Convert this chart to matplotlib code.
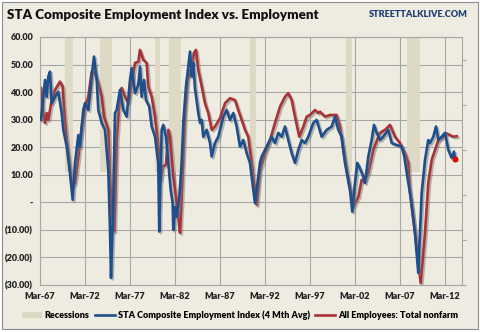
import matplotlib
matplotlib.use('Agg')
import matplotlib.pyplot as plt
import matplotlib.patheffects as pe
from matplotlib.patches import Rectangle, Patch
from matplotlib.lines import Line2D

# STA composite employment index (4 month avg)
sta_year = [1967.28, 1967.54, 1967.73, 1967.91, 1968.09, 1968.28, 1968.47, 1968.84, 1969.20, 1969.58,
            1969.76, 1970.14, 1970.50, 1970.80, 1971.06, 1971.43, 1971.61, 1971.98, 1972.17, 1972.54,
            1972.91, 1973.17, 1973.47, 1973.65, 1974.03, 1974.39, 1974.76, 1974.95, 1975.06, 1975.28,
            1975.50, 1975.69, 1976.06, 1976.43, 1976.80, 1977.17, 1977.36, 1977.73, 1978.09, 1978.28,
            1978.47, 1978.73, 1978.95, 1979.31, 1979.58, 1979.95, 1980.31, 1980.42, 1980.69, 1980.87,
            1981.17, 1981.43, 1981.69, 1981.91, 1981.98, 1982.17, 1982.36, 1982.65, 1982.91, 1983.09,
            1983.39, 1983.65, 1983.84, 1984.03, 1984.20, 1984.39, 1984.76, 1984.95, 1985.14, 1985.31,
            1985.69, 1986.06, 1986.25, 1986.61, 1986.98, 1987.17, 1987.54, 1987.91, 1988.28, 1988.65,
            1989.02, 1989.39, 1989.76, 1990.14, 1990.50, 1991.06, 1991.61, 1991.80, 1992.17, 1992.54,
            1992.91, 1993.28, 1993.65, 1994.02, 1994.39, 1994.76, 1995.14, 1995.50, 1995.87, 1996.25,
            1996.61, 1996.98, 1997.54, 1997.91, 1998.47, 1999.02, 1999.58, 1999.95, 2000.31, 2000.69,
            2001.06, 2001.61, 2001.87, 2002.17, 2002.43, 2002.80, 2003.09, 2003.28, 2003.65, 2004.02,
            2004.28, 2004.58, 2004.95, 2005.31, 2005.87, 2006.25, 2006.80, 2007.36, 2007.65, 2008.00,
            2008.40, 2008.83, 2009.20, 2009.39, 2009.58, 2009.95, 2010.31, 2010.50, 2010.87, 2011.17,
            2011.43, 2011.80, 2012.17, 2012.54, 2012.91, 2013.17, 2013.28]
sta_val = [29.9, 38.3, 44.4, 38.3, 45.6, 47.4, 36.0, 38.3, 40.1, 32.4,
           26.3, 20.2, 10.6, 0.9, 14.3, 24.4, 20.2, 33.5, 36.0, 33.5,
           45.6, 52.9, 44.4, 33.5, 28.8, 26.3, 11.7, -10.0, -27.4, -5.0,
           32.4, 33.5, 40.8, 33.5, 31.1, 44.4, 48.7, 39.6, 42.6, 49.2,
           38.3, 44.4, 37.1, 34.7, 27.5, 23.8, 14.3, -10.6, 26.3, 28.1,
           23.8, 14.3, 4.5, -0.2, -10.0, -1.7, -5.3, 2.0, 14.3, 28.8,
           42.0, 49.2, 54.7, 45.6, 50.6, 41.4, 32.4, 28.8, 29.9, 23.8,
           26.3, 21.5, 16.6, 21.5, 23.8, 26.3, 31.1, 33.5, 29.9, 32.4,
           27.5, 20.2, 22.6, 17.8, 14.3, -0.3, 14.3, 16.6, 19.0, 21.5,
           23.8, 21.5, 25.2, 23.8, 27.5, 22.6, 17.8, 14.3, 19.0, 22.6,
           21.5, 23.8, 28.8, 29.9, 23.8, 26.3, 27.5, 31.1, 26.3, 23.8,
           14.3, 4.5, -3.4, 7.0, 14.3, 11.7, 9.3, 7.0, 16.6, 22.6,
           28.1, 25.2, 22.6, 23.8, 26.3, 21.5, 20.8, 20.2, 16.6, 9.0,
           1.0, -11.0, -25.6, -11.0, 3.4, 15.4, 22.6, 21.5, 23.8, 27.5,
           22.6, 23.8, 25.2, 19.0, 16.1, 18.4, 15.7]

# All employees: total nonfarm
emp_year = [1967.28, 1967.47, 1967.73, 1967.91, 1968.09, 1968.47, 1968.84, 1969.39, 1969.69, 1969.87,
            1970.14, 1970.43, 1970.69, 1971.06, 1971.43, 1971.80, 1972.17, 1972.54, 1972.91, 1973.28,
            1973.65, 1974.03, 1974.28, 1974.76, 1974.95, 1975.17, 1975.43, 1975.69, 1976.06, 1976.25,
            1976.61, 1976.98, 1977.36, 1977.73, 1978.09, 1978.28, 1978.65, 1979.02, 1979.20, 1979.58,
            1979.95, 1980.31, 1980.58, 1980.80, 1981.17, 1981.43, 1981.61, 1981.98, 1982.36, 1982.65,
            1982.73, 1982.91, 1983.28, 1983.54, 1984.03, 1984.28, 1984.50, 1984.76, 1985.14, 1985.50,
            1985.87, 1986.25, 1986.61, 1987.17, 1987.73, 1988.28, 1988.84, 1989.20, 1989.58, 1989.95,
            1990.31, 1990.69, 1991.25, 1991.61, 1992.17, 1992.73, 1993.28, 1993.84, 1994.39, 1994.76,
            1995.14, 1995.50, 1995.98, 1996.43, 1996.80, 1997.17, 1997.73, 1998.09, 1998.28, 1998.84,
            1999.39, 2000.13, 2000.50, 2000.87, 2001.24, 2001.98, 2002.54, 2002.91, 2003.28, 2003.65,
            2004.20, 2004.76, 2004.95, 2005.50, 2006.06, 2006.61, 2007.17, 2007.73, 2008.09, 2008.28,
            2008.83, 2009.47, 2009.95, 2010.31, 2010.69, 2011.06, 2011.43, 2011.98, 2012.36, 2012.73,
            2013.09, 2013.47]
emp_val = [41.5, 33.5, 28.8, 32.4, 29.9, 37.1, 40.8, 43.8, 42.0, 32.4,
           22.6, 14.3, 5.6, 7.0, 16.5, 27.3, 34.6, 38.3, 47.4, 46.9,
           43.3, 38.3, 31.1, 26.3, 8.0, -5.0, -10.6, 22.6, 39.6, 41.5,
           38.3, 36.0, 43.3, 50.6, 51.0, 55.3, 51.7, 50.6, 42.0, 38.3,
           31.1, 20.2, 8.1, 13.0, 13.6, 26.3, 23.8, 9.3, -0.2, -8.9,
           -11.1, 2.0, 32.4, 44.4, 49.2, 54.2, 55.3, 48.0, 42.0, 36.0,
           32.4, 26.3, 27.5, 30.5, 36.0, 37.8, 37.1, 33.5, 29.9, 26.3,
           23.8, 14.3, -1.0, 11.7, 17.8, 22.6, 28.8, 34.7, 38.3, 39.6,
           37.1, 31.1, 23.8, 27.5, 31.1, 31.7, 33.5, 32.4, 32.9, 31.1,
           31.7, 31.7, 27.5, 19.0, 11.7, -1.6, 2.0, 8.1, 8.1, 10.6,
           19.0, 23.8, 25.2, 26.3, 28.1, 23.8, 21.5, 17.8, 14.3, 3.4,
           -11.0, -29.3, -11.0, 7.0, 15.4, 19.0, 22.6, 23.8, 25.0, 24.4,
           23.8, 24.0]

# NBER recessions (start, end) in decimal years
rec_start = [1969.92, 1973.83, 1980.0, 1981.5, 1990.5, 2001.17, 2007.92]
rec_end = [1970.83, 1975.17, 1980.5, 1982.83, 1991.17, 2001.83, 2009.42]

xtick_years = [1967.17, 1972.17, 1977.17, 1982.17, 1987.17, 1992.17, 1997.17, 2002.17, 2007.17, 2012.17]
xtick_labels = ['Mar-67', 'Mar-72', 'Mar-77', 'Mar-82', 'Mar-87', 'Mar-92', 'Mar-97', 'Mar-02', 'Mar-07', 'Mar-12']
ytick_vals = [-30, -20, -10, 0, 10, 20, 30, 40, 50, 60]

bg = '#EEECE1'
blue = '#1F4E8C'
red = '#A93236'
rec_col = '#DDD9C4'
grid_col = '#A6A6A6'

plt.rcParams['font.family'] = ['Lato', 'DejaVu Sans']

fig = plt.figure(figsize=(4.8, 3.32), dpi=100)
fig.patch.set_facecolor('white')
fig.patches.append(Rectangle((0.004, 0.009), 0.992, 0.985, transform=fig.transFigure,
                             facecolor=bg, edgecolor='#8C8C8C', linewidth=0.8, zorder=-10))

ax = fig.add_axes([0.0833, 0.1416, 0.8792, 0.747])
ax.set_facecolor(bg)
ax.set_zorder(2)

# recession bars
for s, e in zip(rec_start, rec_end):
    ax.bar(s, 49, width=e - s, bottom=11, align='edge', color=rec_col, zorder=1)

shadow = [pe.SimpleLineShadow(offset=(1.2, -1.2), shadow_color='#777777', alpha=0.5), pe.Normal()]
ax.plot(sta_year, sta_val, color=blue, lw=1.9, zorder=3, path_effects=shadow)
ax.plot(emp_year, emp_val, color=red, lw=1.9, zorder=2, path_effects=shadow)
ax.plot(sta_year[-1], sta_val[-1], 'o', color='#E00000', ms=3.3, zorder=4)

ax.set_xlim(1967.17, 2014.06)
ax.set_ylim(-30, 60)
ax.set_xticks(xtick_years)
ax.set_xticklabels(xtick_labels)
ax.set_yticks(ytick_vals)

def fmt(v):
    if v == 0:
        return '-'
    if v < 0:
        return '(%.2f)' % abs(v)
    return '%.2f' % v

ax.set_yticklabels([fmt(v) for v in ytick_vals])
ax.tick_params(axis='both', length=0, labelsize=6.5, pad=5, labelcolor='#222222')
for lbl in ax.get_xticklabels() + ax.get_yticklabels():
    lbl.set_fontweight('heavy')
ax.grid(True, color=grid_col, lw=0.8, zorder=0)
ax.set_axisbelow(True)
for side in ['top', 'left', 'bottom', 'right']:
    ax.spines[side].set_color(grid_col)
    ax.spines[side].set_linewidth(0.8)

# secondary axis ticks on the right (no labels)
ax2 = ax.twinx()
ax2.set_ylim(0, 1.1)
ax2.set_yticks([0, 0.2, 0.4, 0.6, 0.8, 1.0])
ax2.set_yticklabels([])
ax2.tick_params(axis='y', length=3, color=grid_col, direction='out')
for side in ['top', 'left', 'bottom', 'right']:
    ax2.spines[side].set_visible(False)

fig.text(0.015, 0.955, 'STA Composite Employment Index vs. Employment', fontsize=9.6,
         fontweight='heavy', ha='left', va='center', color='#111111')
fig.text(0.975, 0.955, 'STREETTALKLIVE.COM', fontsize=6.6, fontweight='heavy',
         ha='right', va='center', color='#1F3F77')

handles = [Patch(facecolor=rec_col, edgecolor='none'),
           Line2D([], [], color=blue, lw=1.9),
           Line2D([], [], color=red, lw=1.9)]
labels = ['Recessions', 'STA Composite Employment Index (4 Mth Avg)', 'All Employees: Total nonfarm']
fig.legend(handles, labels, loc='center', bbox_to_anchor=(0.5, 0.05), ncol=3, frameon=False,
           handlelength=2.2, handleheight=0.5, columnspacing=0.6, handletextpad=0.3,
           prop={'weight': 'heavy', 'size': 6.5})

fig.savefig('out.png', dpi=100, facecolor=fig.get_facecolor())
